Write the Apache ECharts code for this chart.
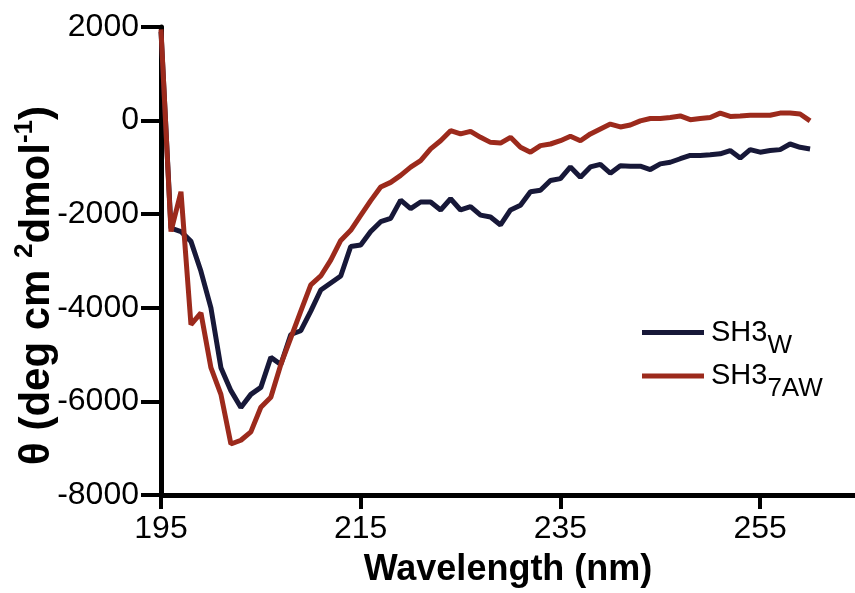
<!DOCTYPE html>
<html>
<head>
<meta charset="utf-8">
<script src="https://cdn.jsdelivr.net/npm/echarts@6/dist/echarts.min.js"></script>
<style>
html,body{margin:0;padding:0;background:#fff;}
#chart{width:855px;height:593px;}
</style>
</head>
<body>
<div id="chart"></div>
<script>
var wavelengths = [195,196,197,198,199,200,201,202,203,204,205,206,207,208,209,210,211,212,213,214,215,216,217,218,219,220,221,222,223,224,225,226,227,228,229,230,231,232,233,234,235,236,237,238,239,240,241,242,243,244,245,246,247,248,249,250,251,252,253,254,255,256,257,258,259,260];
var sh3W = [1900,-2300,-2370,-2580,-3220,-4000,-5280,-5770,-6130,-5850,-5700,-5060,-5210,-4570,-4490,-4070,-3620,-3470,-3320,-2690,-2660,-2370,-2160,-2090,-1700,-1880,-1740,-1740,-1910,-1670,-1910,-1840,-2020,-2060,-2230,-1910,-1810,-1520,-1490,-1280,-1240,-990,-1210,-990,-935,-1125,-965,-975,-975,-1045,-925,-890,-815,-745,-745,-730,-710,-640,-800,-620,-675,-640,-620,-500,-570,-605];
var sh37AW = [1950,-2370,-1520,-4360,-4110,-5280,-5850,-6910,-6830,-6650,-6125,-5910,-5210,-4640,-4070,-3510,-3320,-2980,-2560,-2345,-2025,-1710,-1420,-1320,-1170,-995,-855,-605,-430,-215,-285,-230,-357,-465,-480,-357,-570,-675,-535,-500,-430,-335,-430,-285,-180,-75,-135,-95,-5,45,45,65,100,20,45,65,160,90,100,115,115,115,160,160,140,-5];
var xTicks = [195,215,235,255];
var seriesNames = ['SH3W','SH37AW'];

function pairs(xs, ys){ return xs.map(function(x,i){ return [x, ys[i]]; }); }

var FONT = '"Liberation Sans", Arial, Helvetica, sans-serif';
var chart = echarts.init(document.getElementById('chart'), null, {renderer:'canvas'});
chart.setOption({
  animation:false,
  backgroundColor:'#ffffff',
  grid:{left:161, right:0, top:27, bottom:95, containLabel:false},
  xAxis:{
    type:'value', min:195, max:264.5,
    axisLine:{show:true, onZero:false, lineStyle:{color:'#000', width:5}},
    axisTick:{show:true, length:14, customValues:xTicks, lineStyle:{color:'#000', width:4}},
    axisLabel:{customValues:xTicks, margin:18, color:'#000', fontSize:32, fontFamily:FONT},
    splitLine:{show:false},
    name:'Wavelength (nm)', nameLocation:'middle', nameGap:57,
    nameTextStyle:{color:'#000', fontSize:36, fontWeight:'bold', fontFamily:FONT}
  },
  yAxis:{
    type:'value', min:-8000, max:2000, interval:2000,
    axisLine:{show:true, onZero:false, lineStyle:{color:'#000', width:5}},
    axisTick:{show:true, length:20, lineStyle:{color:'#000', width:4}},
    axisLabel:{margin:22, color:'#000', fontSize:32, fontFamily:FONT,
      formatter:function(v){ return String(v); }},
    splitLine:{show:false}
  },
  legend:{
    orient:'vertical', left:637, top:313, itemWidth:62, itemHeight:5, itemGap:3, icon:'rect',
    data:seriesNames,
    formatter:function(n){ return n==='SH3W' ? '{a|SH3}{b|W}' : '{a|SH3}{b|7AW}'; },
    textStyle:{
      color:'#000', fontFamily:FONT, fontSize:28,
      rich:{
        a:{fontSize:29, lineHeight:52, verticalAlign:'middle', fontFamily:FONT, color:'#000', padding:[0,0,0,2]},
        b:{fontSize:26, lineHeight:28, verticalAlign:'bottom', fontFamily:FONT, color:'#000'}
      }
    }
  },
  graphic:[{
    type:'text', left:12, top:106, rotation:Math.PI/2,
    style:{
      text:'{m|θ (deg cm }{s|2}{m|dmol}{s|-1}{m|)}',
      fill:'#000', font:'bold 42px ' + FONT,
      rich:{
        m:{fontSize:42, fontWeight:'bold', lineHeight:46, verticalAlign:'bottom', fontFamily:FONT},
        s:{fontSize:26, fontWeight:'bold', lineHeight:26, verticalAlign:'top', fontFamily:FONT}
      }
    }
  }],
  series:[
    {name:'SH3W', type:'line', data:pairs(wavelengths, sh3W), showSymbol:false, symbol:'none',
     lineStyle:{color:'#171838', width:5}, itemStyle:{color:'#171838'}, clip:true},
    {name:'SH37AW', type:'line', data:pairs(wavelengths, sh37AW), showSymbol:false, symbol:'none',
     lineStyle:{color:'#9c2a1c', width:5}, itemStyle:{color:'#9c2a1c'}, clip:true}
  ]
});
</script>
</body>
</html>
